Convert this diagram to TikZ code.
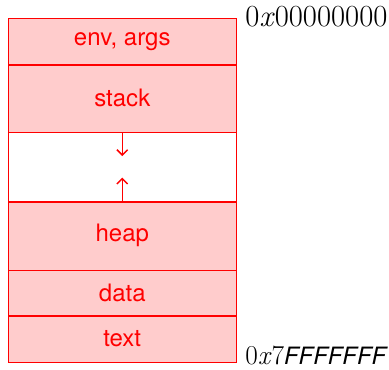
\documentclass[tikz,border=0pt]{standalone}
\usepackage{fontspec}
\newfontfamily\segfont{TeX Gyre Heros}
\usetikzlibrary{positioning,arrows.meta}
\tikzset{
  seg/.style={draw=red, fill=red!20, text=red, minimum width=171pt, inner sep=0pt,
    font=\segfont\fontsize{18}{20}\selectfont},
  gapbox/.style={seg, fill=white},
  growarrow/.style={draw=red, line width=1.1pt, -{Straight Barb[length=4pt,width=8pt]}},
  addr/.style={anchor=base west, inner sep=0pt, font=\fontsize{20.5}{24}\selectfont},
}
\begin{document}
\begin{tikzpicture}
  \useasboundingbox (0,0) rectangle (291.75pt,-277.5pt);

  \node[seg, anchor=north west, minimum height=34.5pt] (env) at (6pt,-13.5pt) {env, args};
  \node[seg, below=0pt of env, minimum height=50.25pt] (stack) {stack};
  \node[gapbox, below=0pt of stack, minimum height=51.75pt] (free) {};
  \node[seg, below=0pt of free, minimum height=51pt] (heap) {heap};
  \node[seg, below=0pt of heap, minimum height=33.75pt] (data) {data};
  \node[seg, below=0pt of data, minimum height=34.5pt] (text) {text};

  \draw[growarrow] (stack.south) -- ++(0,-18pt);
  \draw[growarrow] (heap.north) -- ++(0,18pt);

  \node[addr, font=\fontsize{23}{26}\selectfont] (top) at (183.75pt,-20.25pt) {0\textit{x}00000000};
  \node[addr] (bottom) at (183.75pt,-273.5pt)
    {0\textit{x}7{\segfont\itshape\fontsize{17.9}{20}\selectfont FFFFFFF}};
\end{tikzpicture}
\end{document}
